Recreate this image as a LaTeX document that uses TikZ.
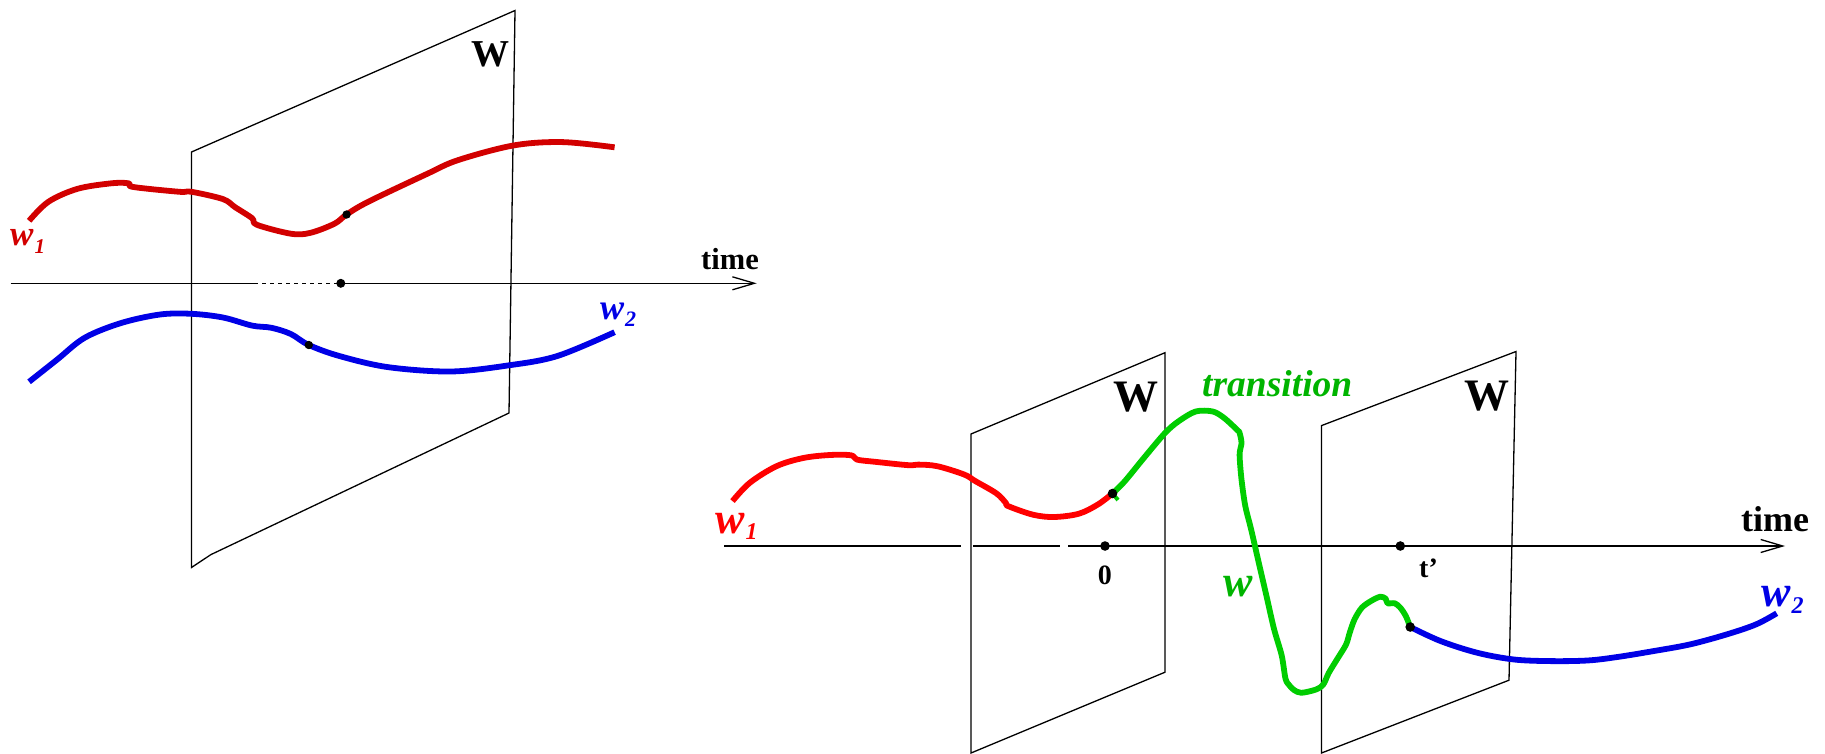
\documentclass[tikz,border=0pt]{standalone}
\usepackage{fontspec}
\setmainfont{Liberation Serif}
\usetikzlibrary{arrows.meta}
\definecolor{redL}{RGB}{210,0,0}
\definecolor{redR}{RGB}{255,0,0}
\definecolor{blueC}{RGB}{0,0,230}
\definecolor{greenC}{RGB}{0,205,0}
\definecolor{greenT}{RGB}{0,180,0}
\tikzset{
  plane/.style={draw=black, line width=1.3pt, line join=miter},
  axisline/.style={draw=black, line width=1.3pt},
  axisarrow/.style={axisline, -{Straight Barb[length=22pt,width=13pt]}},
  curve/.style={line width=5.8pt, line join=round},
  dotmark/.style={fill=black},
  lbl/.style={inner sep=0pt, anchor=base west},
  lblc/.style={inner sep=0pt, anchor=base},
}
\newcommand\fs[1]{\fontsize{#1}{#1}\selectfont}
\begin{document}
\begin{tikzpicture}[x=1pt,y=-1pt]
\useasboundingbox (0,0) rectangle (1825,754);

% ---------------- left panel ----------------
\draw[plane] (191.5,152) -- (515,10.5) -- (509,413) -- (210.9,554.6) -- (191.5,567.5) -- cycle;

\coordinate (aL0) at (10.7,283.3);
\coordinate (aL1) at (254,283.3);
\coordinate (tL) at (340.8,283.3);
\coordinate (aL2) at (756.7,283.3);
\draw[axisline] (aL0) -- (aL1);
\draw[axisline, dash pattern=on 4pt off 4pt] (aL1) -- (tL);
\draw[axisarrow] (tL) -- (aL2);

\coordinate (rL) at (346.6,214.5);
\coordinate (bL) at (308.8,345);
\draw[curve, redL] plot[smooth,tension=0.55] coordinates {(29.1,220.8) (48.5,201.7) (77.6,188.8) (111.5,183.3) (128.5,183.3) (133.3,187) (179.4,191.8) (191.5,191.8) (223,199.1) (235.1,207.2) (252.1,218.2) (256.9,224.8) (290.8,233.7) (310.2,232.9) (334.5,223.7) (rL) (368.4,201.7) (426.6,174.1) (458.1,160.1) (513.8,145.4) (562.3,142.1) (614.6,147.3)};
\draw[curve, blueC] plot[smooth,tension=0.55] coordinates {(29.1,381.8) (57,359.7) (84.8,337.7) (121.2,323) (160,314.5) (191.5,313.8) (223,317.5) (252.1,325.6) (271.5,327.8) (290.8,334) (bL) (339.3,356) (387.8,367.1) (450.8,371.5) (509,365.3) (557.4,356) (614.6,332.2)};

\fill[dotmark] (tL) circle (4.5);
\fill[dotmark] (rL) circle (4.2);
\fill[dotmark] (bL) circle (4.2);

\node[lbl, text=redL, font=\fs{35}\bfseries\itshape] (w1L) at (10,245) {w\kern1pt\raisebox{-8.3pt}{\fs{21}1}};
\node[lbl, text=blueC, font=\fs{36}\bfseries\itshape] (w2L) at (600,319.3) {w\kern1pt\raisebox{-7.4pt}{\fs{22}2}};
\node[lblc, font=\fs{38}\bfseries] (WL) at (490.3,66.7) {W};
\node[lbl, font=\fs{30.5}\bfseries] (timeL) at (701,269.3) {time};

% ---------------- right panel ----------------
\draw[plane] (971,434) -- (1165,352.7) -- (1165,672.2) -- (971,753) -- cycle;
\draw[plane] (1321.5,425.6) -- (1516,351.5) -- (1509,680.2) -- (1321.5,753) -- cycle;

\coordinate (aR0) at (724,546);
\coordinate (aR1) at (961.4,546);
\coordinate (aR2) at (973,546);
\coordinate (aR3) at (1059.7,546);
\coordinate (aR4) at (1068.2,546);
\coordinate (t0) at (1105,546);
\coordinate (tP) at (1400.3,546);
\coordinate (aR5) at (1785,546);
\draw[axisline] (aR0) -- (aR1);
\draw[axisline] (aR2) -- (aR3);
\draw[axisline] (aR4) -- (t0);
\draw[axisline, line width=2pt] (t0) -- (1165,546);
\draw[axisarrow] (t0) -- (aR5);

\coordinate (rR) at (1112.5,493.5);
\coordinate (gR) at (1410.2,627);
\draw[curve, redR] plot[smooth,tension=0.55] coordinates {(732.5,501.1) (749.8,482.8) (776.5,466.2) (803.3,458) (830.1,455) (851.2,455.3) (856.9,459.6) (876,461.9) (908.6,465.2) (918.1,464.6) (937.3,466.2) (964.1,474.5) (975.5,481.2) (996.6,493.5) (1006.2,503.4) (1008.1,506.1) (1033,514.7) (1054,517) (1078.9,513.7) (1098,504.4) (rR)};
\draw[curve, greenC] plot[smooth,tension=0.5] coordinates {(rR) (1124.8,481.2) (1143.9,457.9) (1165,433) (1178.4,421.4) (1195.6,411.5) (1212.8,411.5) (1224.3,418.1) (1237.7,430.4) (1239.6,433) (1241.5,443) (1239.6,454.6) (1241.5,479.5) (1245.3,506.1) (1251.1,529.3) (1258.7,562.5) (1266.4,595.7) (1274,628.9) (1281.7,655.5) (1285.5,678.7) (1289.4,685.4) (1294,690) (1301.3,692.8) (1316,689.5) (1323.3,684.5) (1328.8,672.8) (1338,657.8) (1346.1,644.4) (1349.7,632.7) (1354.5,619.4) (1361.8,607.7) (1371,601) (1380.2,596.7) (1385.7,598.7) (1387.5,603.3) (1394.8,603.3) (1400.3,607.7) (1405.8,616) (gR)};
\draw[curve, greenC, line width=4pt] (rR) -- (1118,500);
\draw[curve, blueC] plot[smooth,tension=0.55] coordinates {(gR) (1440.7,641.1) (1477.4,652.8) (1514,659.5) (1550.7,661.1) (1587.4,660.5) (1616.7,657.1) (1653.4,651.1) (1690,644.4) (1726.7,634.4) (1756,624.4) (1776.7,613.3)};

\fill[dotmark] (t0) circle (4.8);
\fill[dotmark] (tP) circle (4.8);
\fill[dotmark] (rR) circle (4.8);
\fill[dotmark] (gR) circle (4.8);

\node[lbl, text=redR, font=\fs{44}\bfseries\itshape] (w1R) at (715,533.3) {w\kern1pt\raisebox{-6pt}{\fs{24}1}};
\node[lbl, text=blueC, font=\fs{44}\bfseries\itshape] (w2R) at (1761,606.7) {w\kern1pt\raisebox{-6.5pt}{\fs{24}2}};
\node[lbl, text=greenT, font=\fs{44}\bfseries\itshape] (wG) at (1223,596.7) {w};
\node[lbl, text=greenT, font=\fs{37.5}\bfseries\itshape] (trans) at (1202,396) {transition};
\node[lblc, font=\fs{45}\bfseries] (WR1) at (1136,411.5) {W};
\node[lblc, font=\fs{45}\bfseries] (WR2) at (1486.5,410.7) {W};
\node[lbl, font=\fs{36}\bfseries] (timeR) at (1741,531.7) {time};
\node[lblc, font=\fs{28}\bfseries] (zero) at (1104.8,584) {0};
\node[lbl, font=\fs{28}\bfseries] (tprime) at (1419,577.6) {t'};
\end{tikzpicture}
\end{document}
